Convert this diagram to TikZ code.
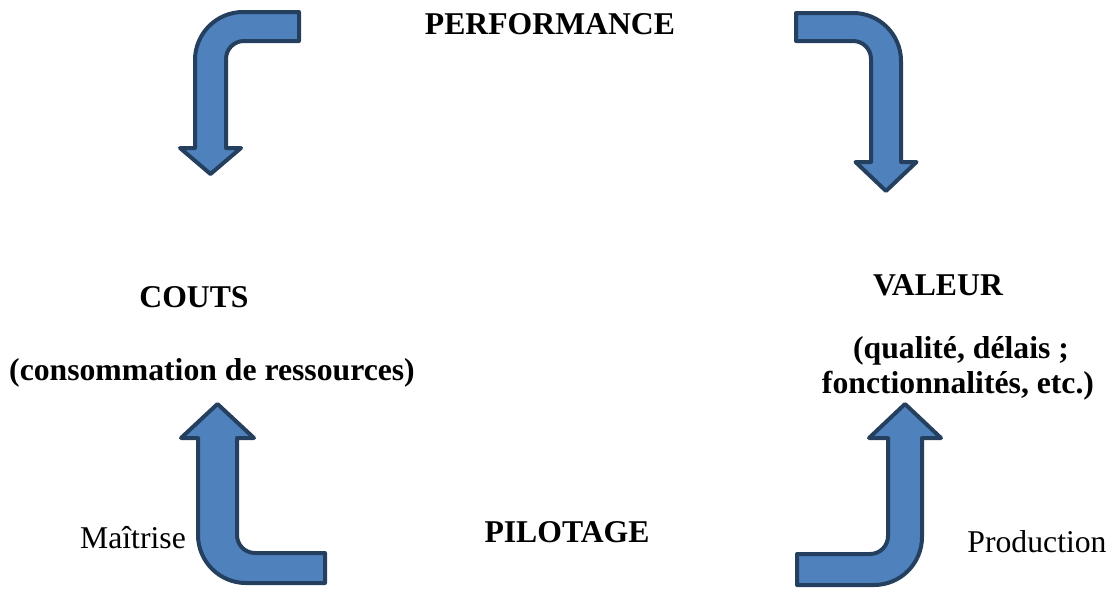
\documentclass[tikz,border=0pt]{standalone}
\usepackage{fontspec}
\setmainfont{Liberation Serif}
\usepackage{tikz}
\definecolor{arrowfill}{HTML}{4F81BD}
\definecolor{arrowline}{HTML}{25405F}
\newcommand{\labelfont}{\fontsize{31.7}{38}\selectfont}

% bent block arrow, drawn in a local frame (outer corner at origin)
% #1 scope options, #2 bar length, #3 head base, #4 tip, #5 head half width,
% #6 shaft width, #7 bar width
\newcommand{\bentarrow}[7]{%
  \begin{scope}[#1]
    \draw[blockarrow] (#2,0) -- (48,0) .. controls (21.5,0) and (0,21.5) .. (0,48)
      -- (0,#3) -- ({#6/2-#5},#3) -- ({#6/2},#4) -- ({#6/2+#5},#3) -- (#6,#3)
      -- (#6,{#7+18}) .. controls (#6,{#7+8}) and ({#6+8},#7) .. ({#6+18},#7)
      -- (#2,#7) -- cycle;
  \end{scope}}

\begin{document}
\begin{tikzpicture}[
  x=1pt, y=-1pt,
  blockarrow/.style={fill=arrowfill, draw=arrowline, line width=4pt,
                     line join=round},
  title/.style={font=\labelfont\bfseries, inner sep=0pt, anchor=base},
  side/.style={font=\labelfont, inner sep=0pt, anchor=base},
]
\useasboundingbox (0,0) rectangle (1109,590);

% --- the four bent arrows ---
\bentarrow{shift={(195,12)}}{104}{136}{162}{30.5}{31}{29}
\bentarrow{shift={(901,13)}, xscale=-1}{105}{149}{178}{30.5}{30}{28}
\bentarrow{shift={(198,583)}, yscale=-1}{127}{145}{179}{36.5}{39}{30}
\bentarrow{shift={(922,585)}, xscale=-1, yscale=-1}{125}{147}{181}{36}{34}{31}

% --- labels ---
\node[title] (perf)   at (550,34)  {PERFORMANCE};
\node[title] (couts)  at (194,307) {COUTS};
\node[title] (conso)  at (212,380) {(consommation de ressources)};
\node[title] (valeur) at (938,295) {VALEUR};
\node[title] (qual)   at (961,358) {(qualité, délais ;};
\node[title] (fonct)  at (958,393) {fonctionnalités, etc.)};
\node[title] (pilot)  at (567,542) {PILOTAGE};
\node[side]  (maitr)  at (133,548) {Maîtrise};
\node[side]  (prod)   at (1037,552) {Production};
\end{tikzpicture}
\end{document}
